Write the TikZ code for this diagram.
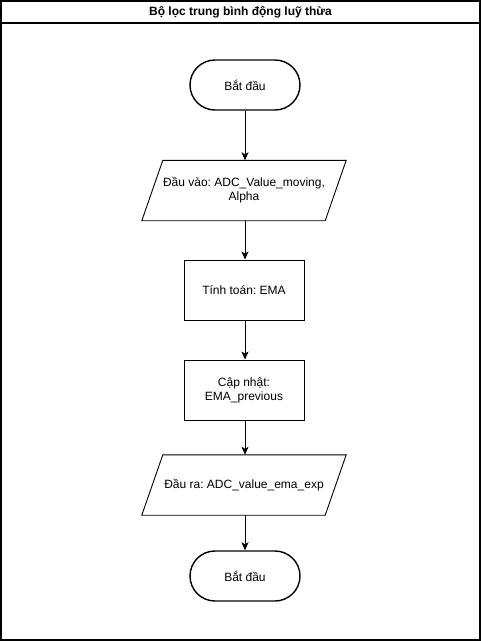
\documentclass[tikz,border=0pt]{standalone}
\usepackage{fontspec}
\setmainfont{Liberation Sans}
\usetikzlibrary{arrows.meta}
\frenchspacing
\begin{document}
\begin{tikzpicture}[x=1pt,y=-1pt,
  txt/.style={font=\fontsize{12}{14}\selectfont\frenchspacing,align=center,inner sep=0pt},
  term/.style={txt,draw,line width=1.4pt,rounded corners=25pt,minimum width=110pt,minimum height=50pt},
  proc/.style={txt,draw,line width=0.9pt,minimum width=120pt,minimum height=60pt},
  iobox/.style={txt,minimum width=183pt,minimum height=60pt},
  slanted/.style={line width=0.9pt},
  flow/.style={line width=0.9pt,-{Stealth[length=8pt,width=7pt,inset=2pt]}}]
\useasboundingbox (0,0) rectangle (481,641);
% frame
\draw[line width=1.2pt] (1,1) rectangle (480,640);
\draw[line width=1.2pt] (1,23) -- (480,23);
\node[txt,font=\fontsize{12}{14}\selectfont\bfseries] (title) at (240.5,12) {Bộ lọc trung bình động luỹ thừa};
% nodes
\node[term] (start) at (245,85) {Bắt đầu};
\node[iobox] (in) at (244,190.5) {Đầu vào: ADC\_Value\_moving,\\Alpha};
\draw[slanted] ([xshift=10.5pt]in.north west) -- ([xshift=10.5pt]in.north east) -- ([xshift=-10.5pt]in.south east) -- ([xshift=-10.5pt]in.south west) -- cycle;
\node[proc] (calc) at (244,290) {Tính toán: EMA};
\node[proc] (upd) at (244,390) {Cập nhật:\\EMA\_previous};
\node[iobox] (out) at (244,485) {Đầu ra: ADC\_value\_ema\_exp};
\draw[slanted] ([xshift=10.5pt]out.north west) -- ([xshift=10.5pt]out.north east) -- ([xshift=-10.5pt]out.south east) -- ([xshift=-10.5pt]out.south west) -- cycle;
\node[term] (end) at (245,576) {Bắt đầu};
% connectors
\draw[flow] (start.south) -- (start.south |- in.north);
\draw[flow] (in.south -| start.south) -- (start.south |- calc.north);
\draw[flow] (calc.south -| start.south) -- (start.south |- upd.north);
\draw[flow] (upd.south -| start.south) -- (start.south |- out.north);
\draw[flow] (out.south -| start.south) -- (end.north);
\end{tikzpicture}
\end{document}
